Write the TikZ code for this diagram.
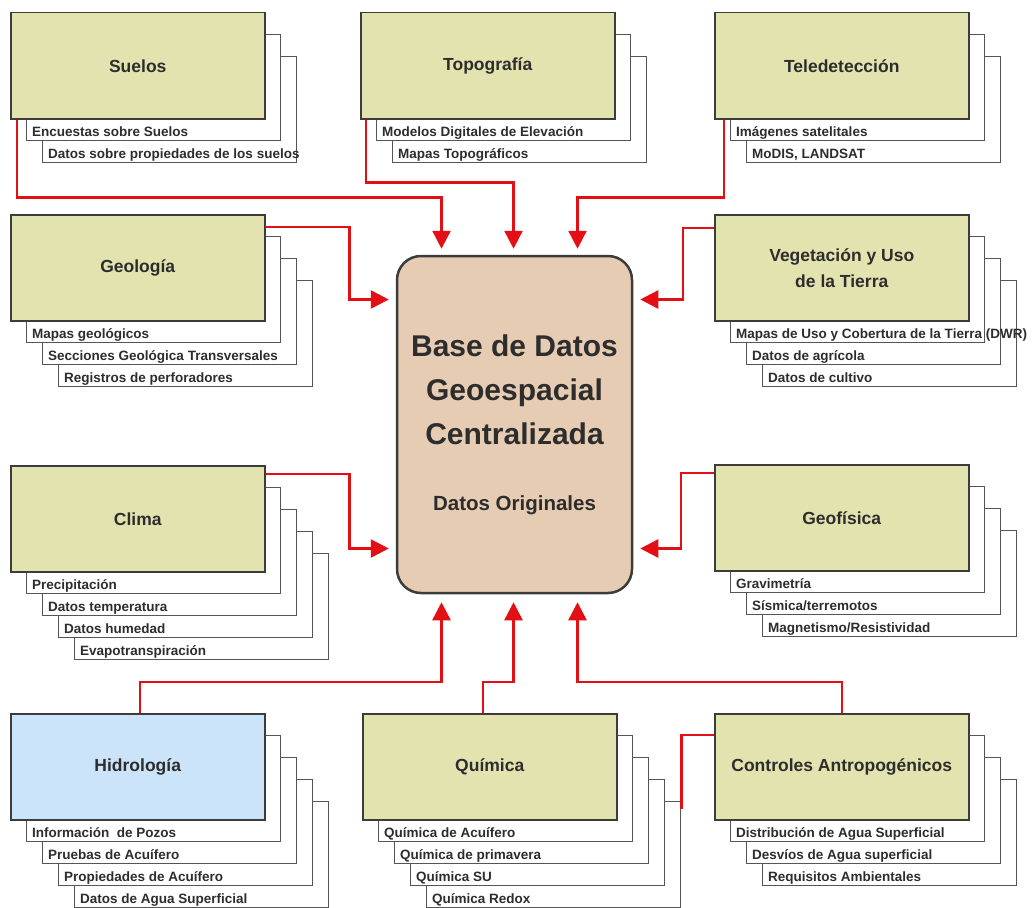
\documentclass[tikz,border=0pt]{standalone}
\usepackage{fontspec}
\setmainfont{Liberation Sans}
\usepackage{xcolor}
\usepackage{tikz}
\usetikzlibrary{arrows.meta}

\definecolor{caqui}{RGB}{227,227,176}
\definecolor{celeste}{RGB}{204,228,250}
\definecolor{arena}{RGB}{230,204,178}
\definecolor{rojo}{RGB}{226,16,20}
\definecolor{gris}{RGB}{85,85,85}
\definecolor{grisosc}{RGB}{60,60,60}
\definecolor{texto}{RGB}{45,45,45}

\tikzset{
	capa/.style={draw=gris, line width=1.3pt, fill=white, anchor=north west,
		minimum width=254pt, minimum height=106pt, inner sep=0pt},
	tema/.style={draw=grisosc, line width=1.5pt, fill=caqui, anchor=north west,
		minimum width=254pt, minimum height=106pt, inner sep=0pt, align=center,
		text=texto, font=\bfseries\fontsize{17.5}{26}\selectfont},
	subtexto/.style={anchor=base west, inner sep=0pt, text=texto,
		font=\bfseries\fontsize{13.5}{16}\selectfont},
	flecha/.style={draw=rojo, line width=2.5pt, -{Triangle[length=18pt,width=18pt]}},
	linea/.style={draw=rojo, line width=2.5pt}
}

\begin{document}
\begin{tikzpicture}[x=1pt,y=-1pt]

\useasboundingbox (0,0) rectangle (1032,907);

% Suelos
\begin{scope}[shift={(10,12)}]
\foreach \k/\t in {2/Datos sobre propiedades de los suelos, 1/Encuestas sobre Suelos}{
	\node[capa] (suelos-\k) at (16*\k,22*\k) {};
	\node[subtexto] (suelos-t\k) at (16*\k+6,22*\k+102) {\t};
}
\node[tema] (suelos) at (0,0) {Suelos};
\end{scope}

% Topografia
\begin{scope}[shift={(360,12)}]
\foreach \k/\t in {2/Mapas Topográficos, 1/Modelos Digitales de Elevación}{
	\node[capa] (topo-\k) at (16*\k,22*\k) {};
	\node[subtexto] (topo-t\k) at (16*\k+6,22*\k+102) {\t};
}
\node[tema] (topo) at (0,0) {Topografía};
\end{scope}

% Teledeteccion
\begin{scope}[shift={(714,12)}]
\foreach \k/\t in {2/{MoDIS, LANDSAT}, 1/Imágenes satelitales}{
	\node[capa] (tele-\k) at (16*\k,22*\k) {};
	\node[subtexto] (tele-t\k) at (16*\k+6,22*\k+102) {\t};
}
\node[tema] (tele) at (0,0) {Teledetección};
\end{scope}

% Geologia
\begin{scope}[shift={(10,214)}]
\foreach \k/\t in {3/Registros de perforadores, 2/Secciones Geológica Transversales, 1/Mapas geológicos}{
	\node[capa] (geo-\k) at (16*\k,22*\k) {};
	\node[subtexto] (geo-t\k) at (16*\k+6,22*\k+102) {\t};
}
\node[tema] (geo) at (0,0) {Geología};
\end{scope}

% Vegetacion
\begin{scope}[shift={(714,214)}]
\foreach \k/\t in {3/Datos de cultivo, 2/Datos de agrícola, 1/Mapas de Uso y Cobertura de la Tierra (DWR)}{
	\node[capa] (veg-\k) at (16*\k,22*\k) {};
	\node[subtexto] (veg-t\k) at (16*\k+6,22*\k+102) {\t};
}
\node[tema] (veg) at (0,0) {Vegetación y Uso\\de la Tierra};
\end{scope}

% Clima
\begin{scope}[shift={(10,465)}]
\foreach \k/\t in {4/Evapotranspiración, 3/Datos humedad, 2/Datos temperatura, 1/Precipitación}{
	\node[capa] (clima-\k) at (16*\k,22*\k) {};
	\node[subtexto] (clima-t\k) at (16*\k+6,22*\k+102) {\t};
}
\node[tema] (clima) at (0,0) {Clima};
\end{scope}

% Geofisica
\begin{scope}[shift={(714,464)}]
\foreach \k/\t in {3/{Magnetismo/Resistividad}, 2/{Sísmica/terremotos}, 1/Gravimetría}{
	\node[capa] (geof-\k) at (16*\k,22*\k) {};
	\node[subtexto] (geof-t\k) at (16*\k+6,22*\k+102) {\t};
}
\node[tema] (geof) at (0,0) {Geofísica};
\end{scope}

% Hidrologia
\begin{scope}[shift={(10,713)}]
\foreach \k/\t in {4/Datos de Agua Superficial, 3/Propiedades de Acuífero, 2/Pruebas de Acuífero, 1/Información\ \ de Pozos}{
	\node[capa] (hidro-\k) at (16*\k,22*\k) {};
	\node[subtexto] (hidro-t\k) at (16*\k+6,22*\k+102) {\t};
}
\node[tema, fill=celeste] (hidro) at (0,0) {Hidrología};
\end{scope}

% Quimica
\begin{scope}[shift={(362,713)}]
\foreach \k/\t in {4/Química Redox, 3/Química SU, 2/Química de primavera, 1/Química de Acuífero}{
	\node[capa] (quim-\k) at (16*\k,22*\k) {};
	\node[subtexto] (quim-t\k) at (16*\k+6,22*\k+102) {\t};
}
\node[tema] (quim) at (0,0) {Química};
\end{scope}

% Controles
\begin{scope}[shift={(714,713)}]
\foreach \k/\t in {3/Requisitos Ambientales, 2/Desvíos de Agua superficial, 1/Distribución de Agua Superficial}{
	\node[capa] (ctrl-\k) at (16*\k,22*\k) {};
	\node[subtexto] (ctrl-t\k) at (16*\k+6,22*\k+102) {\t};
}
\node[tema] (ctrl) at (0,0) {Controles Antropogénicos};
\end{scope}

% base central
\node[draw=grisosc, line width=2.5pt, fill=arena, rounded corners=24pt,
	minimum width=235pt, minimum height=337pt, align=center, text=texto,
	font=\bfseries\fontsize{30}{44}\selectfont] (base) at (514.5,424.5)
	{Base de Datos\\Geoespacial\\Centralizada\\[22pt]{\fontsize{20.5}{24}\selectfont Datos Originales}};

% flechas
\draw[flecha] ([xshift=7pt]suelos.south west) -- ++(0,78) -| ([xshift=-73pt,yshift=6pt]base.north);
\draw[flecha] ([xshift=6pt]topo.south west) -- ++(0,63) -| ([xshift=-1pt,yshift=6pt]base.north);
\draw[flecha] ([xshift=10pt]tele.south west) -- ++(0,78) -| ([xshift=63pt,yshift=6pt]base.north);

\draw[flecha] ([yshift=-13pt]geo.north east) -- ++(84,0) |- ([xshift=-7pt,yshift=125pt]base.west);
\draw[flecha] ([yshift=-14pt]veg.north west) -- ++(-31,0) |- ([xshift=7pt,yshift=125pt]base.east);
\draw[flecha] ([yshift=-9pt]clima.north east) -- ++(84,0) |- ([xshift=-7pt,yshift=-124pt]base.west);
\draw[flecha] ([yshift=-9pt]geof.north west) -- ++(-33,0) |- ([xshift=7pt,yshift=-124pt]base.east);

\draw[flecha] ([xshift=130pt]hidro.north west) -- ++(0,-31) -| ([xshift=-73pt,yshift=-8pt]base.south);
\draw[flecha] ([xshift=121pt]quim.north west) -- ++(0,-31) -| ([xshift=-1pt,yshift=-8pt]base.south);
\draw[flecha] ([xshift=128pt]ctrl.north west) -- ++(0,-31) -| ([xshift=63pt,yshift=-8pt]base.south);

\coordinate (quim-fin) at ([yshift=-8pt]quim-4.north east);
\draw[linea] ([yshift=-22pt]ctrl.north west) -| (quim-fin);

\end{tikzpicture}
\end{document}
